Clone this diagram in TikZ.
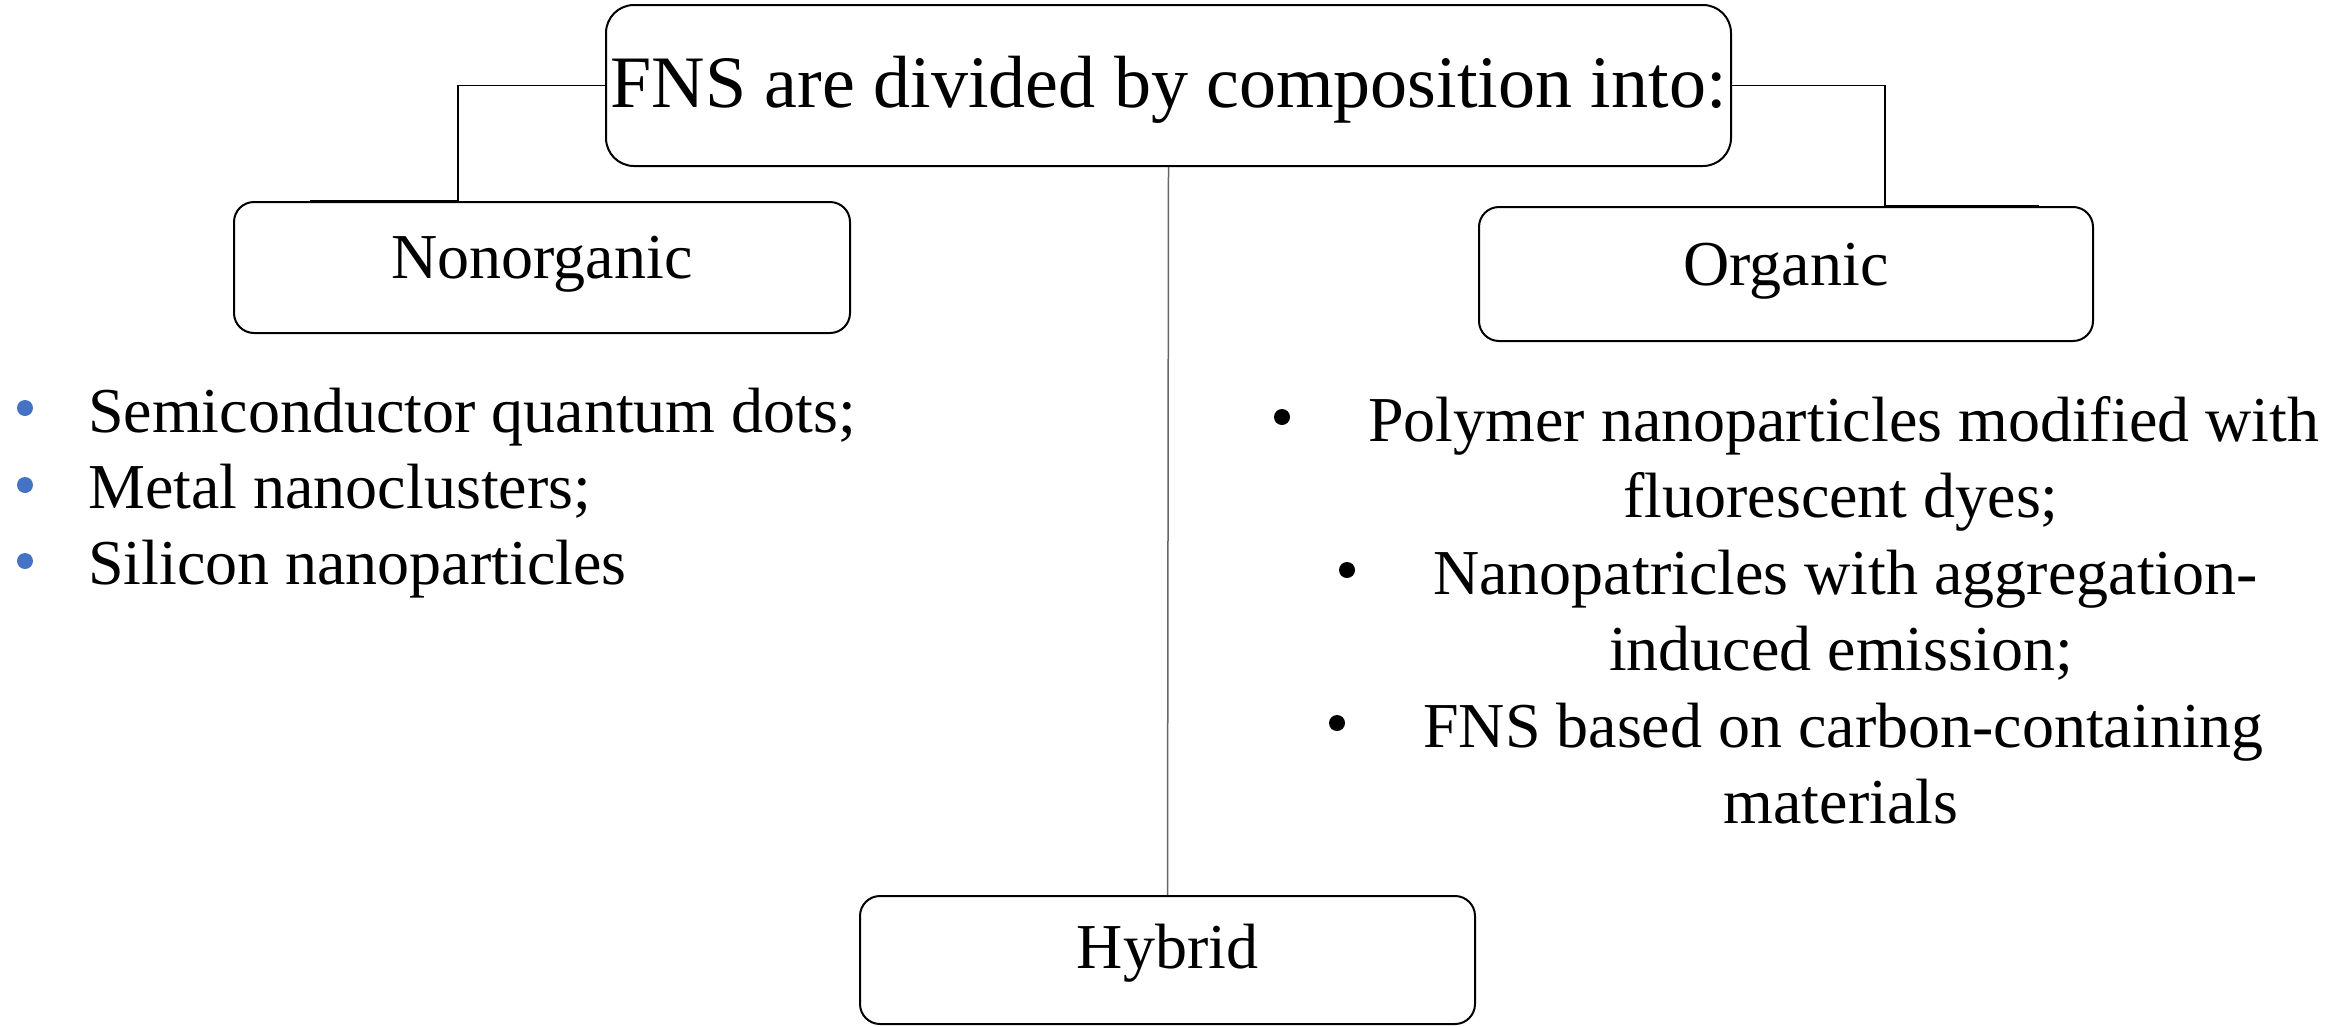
\documentclass[tikz,border=0pt]{standalone}
\usepackage{fontspec}
\setmainfont{Liberation Serif}
\definecolor{bulletblue}{HTML}{4472C4}
\begin{document}
\begin{tikzpicture}[x=1pt,y=-1pt,
  box/.style={draw=black, line width=2pt, rounded corners=20pt, inner sep=0pt,
              text depth=0pt, font=\fontsize{64}{74}\selectfont},
  link/.style={draw=black, line width=1.6pt},
  stem/.style={draw=black!60, line width=1.5pt},
  item/.style={font=\fontsize{64}{74}\selectfont, inner sep=0pt},
]
\useasboundingbox (0,0) rectangle (2348,1026);

% category boxes
\node[box, rounded corners=28pt, minimum width=1125pt, minimum height=161pt,
      text height=43pt, font=\fontsize{74}{86}\selectfont]
      (top) at (1168.5,85.5) {FNS are divided by composition into:};
\node[box, minimum width=616pt, minimum height=131pt, text height=21pt]
      (nonorg) at (542,267.5) {Nonorganic};
\node[box, minimum width=614pt, minimum height=134pt, text height=22pt]
      (org) at (1786,274) {Organic};
\node[box, minimum width=615pt, minimum height=128pt, text height=16pt]
      (hyb) at (1167.5,960) {Hybrid};

% connectors
\coordinate (lbend) at (458,201);
\coordinate (rbend) at (1885,206);
\draw[link] (top.west) -| (lbend) -- ++(-148,0);
\draw[link] (top.east) -| (rbend) -- ++(154,0);
\draw[stem] (top.south) -- (hyb.north);

% inorganic list
\fill[bulletblue] (25,408) circle (8pt);
\fill[bulletblue] (25,485) circle (8pt);
\fill[bulletblue] (25,561) circle (8pt);
\node[item, anchor=base west] (n1) at (88,432) {Semiconductor quantum dots;};
\node[item, anchor=base west] (n2) at (88,508) {Metal nanoclusters;};
\node[item, anchor=base west] (n3) at (88,584) {Silicon nanoparticles};

% organic list
\fill[black] (1282,417) circle (8pt);
\fill[black] (1347,570) circle (8pt);
\fill[black] (1337,723) circle (8pt);
\node[item, anchor=base west] (o1) at (1368,441) {Polymer nanoparticles modified with};
\node[item, anchor=base] (o2) at (1841,517) {fluorescent dyes;};
\node[item, anchor=base west] (o3) at (1433,594) {Nanopatricles with aggregation-};
\node[item, anchor=base] (o4) at (1841,670) {induced emission;};
\node[item, anchor=base west] (o5) at (1423,747) {FNS based on carbon-containing};
\node[item, anchor=base] (o6) at (1841,823) {materials};
\end{tikzpicture}
\end{document}
